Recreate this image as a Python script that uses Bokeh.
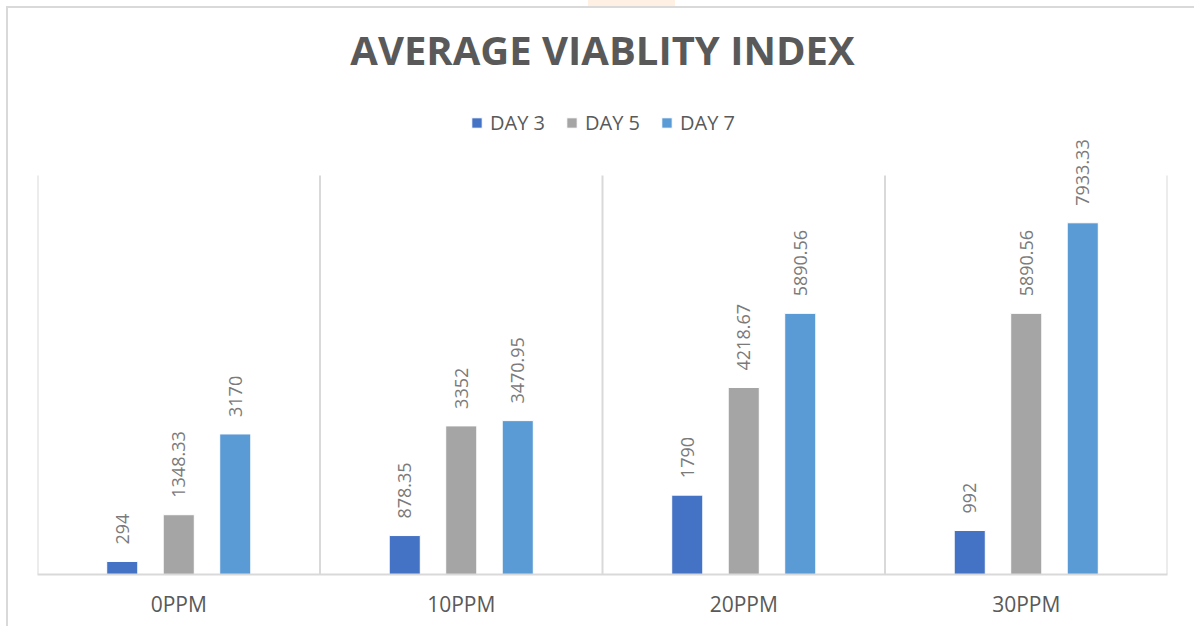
import math
from bokeh.plotting import figure
from bokeh.models import ColumnDataSource, Legend, LegendItem, Title, InlineStyleSheet
from bokeh.transform import dodge
from bokeh.core.properties import value
from bokeh.embed import file_html
from bokeh.resources import INLINE

categories = ["0PPM", "10PPM", "20PPM", "30PPM"]
series = ["DAY 3", "DAY 5", "DAY 7"]
day3 = [294, 878.35, 1790, 992]
day5 = [1348.33, 3352, 4218.67, 5890.56]
day7 = [3170, 3470.95, 5890.56, 7933.33]
labels3 = ["294", "878.35", "1790", "992"]
labels5 = ["1348.33", "3352", "4218.67", "5890.56"]
labels7 = ["3170", "3470.95", "5890.56", "7933.33"]
colors = ["#4472C4", "#A5A5A5", "#5B9BD5"]
y_max = 9000

# layout (pixels within the figure)
W, H = 1194, 626
TOP, BOTTOM = 90, 52
frame_h = H - TOP - BOTTOM
grid_px = 399  # height of the gridded area
y_end = y_max * frame_h / grid_px

src = ColumnDataSource(dict(cat=categories, d3=day3, d5=day5, d7=day7,
                            l3=labels3, l5=labels5, l7=labels7))

chart_css = InlineStyleSheet(css="""
:host { position: relative; }
:host::after { content: ""; position: absolute; left: 6px; top: 6px; right: 0; bottom: 0;
  border-left: 2px solid #D9D9D9; border-top: 2px solid #D9D9D9;
  pointer-events: none; z-index: 10; }
:host::before { content: ""; position: absolute; left: 588px; top: 0; width: 87px; height: 6px;
  background: #FFF0E4; pointer-events: none; z-index: 10; }
""")

p = figure(x_range=categories, y_range=(0, y_end), width=W, height=H,
           output_backend="svg", toolbar_location=None,
           min_border_left=37, min_border_right=27, min_border_bottom=BOTTOM,
           min_border_top=TOP, stylesheets=[chart_css])
p.x_range.range_padding = 0
p.background_fill_color = "white"
p.border_fill_color = "white"
p.outline_line_color = None
p.ygrid.visible = False
p.xgrid.visible = False
p.yaxis.visible = False

# category separators
n = len(categories)
p.segment(x0=list(range(n + 1)), x1=list(range(n + 1)), y0=[0] * (n + 1),
          y1=[y_max] * (n + 1), line_color="#D9D9D9", line_width=2)

offsets = [-0.2, 0.0, 0.2]
fields = ["d3", "d5", "d7"]
lfields = ["l3", "l5", "l7"]
items = []
for s, f, lf, off, c in zip(series, fields, lfields, offsets, colors):
    r = p.vbar(x=dodge("cat", off, range=p.x_range), top=f, width=0.11,
               source=src, fill_color=c, line_color="white", line_width=1)
    items.append(LegendItem(label=s, renderers=[r]))
    p.text(x=dodge("cat", off, range=p.x_range), y=f, text=lf, source=src,
           angle=math.pi / 2, text_align="left", text_baseline="middle",
           y_offset=-17, text_font=value("Open Sans"), text_font_size="18px",
           text_color="#7A7A7A")

xa = p.xaxis[0]
xa.axis_line_color = "#D9D9D9"
xa.axis_line_width = 2
xa.major_tick_line_color = None
xa.minor_tick_line_color = None
xa.major_label_text_font = "Open Sans"
xa.major_label_text_font_size = "21px"
xa.major_label_text_color = "#595959"
xa.major_label_standoff = 9

legend = Legend(items=items, orientation="horizontal", location=(433, 438),
                glyph_width=13, glyph_height=13, label_standoff=7, spacing=20,
                label_text_font="Open Sans", label_text_font_size="20px",
                label_text_color="#595959", border_line_color=None,
                background_fill_alpha=0, padding=0, margin=0)
p.add_layout(legend)

p.title = Title(text="AVERAGE VIABLITY INDEX", align="center",
                text_font="Open Sans", text_font_size="40px",
                text_font_style="bold", text_color="#595959", standoff=28)

open("out.html", "w").write(file_html(p, INLINE))
